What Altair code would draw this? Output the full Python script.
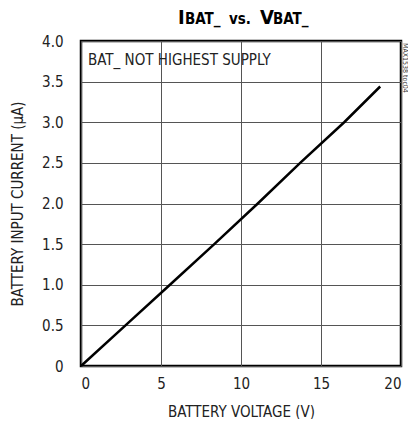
import altair as alt
import pandas as pd

# Data
voltage = [0.0, 2.78, 5.56, 8.33, 11.05, 13.7, 16.45, 18.7]
current = [0.0, 0.50, 1.00, 1.50, 2.00, 2.50, 3.00, 3.44]

x_ticks = [0, 5, 10, 15, 20]
y_ticks = [0, 0.5, 1.0, 1.5, 2.0, 2.5, 3.0, 3.5, 4.0]

annotation = ["BAT_ NOT HIGHEST SUPPLY"]
# title pieces: text, big (1) / small (0)
title_parts = ["I", "BAT_", "vs.", "V", "BAT_"]
title_big = [1, 0, 0, 1, 0]
title_px = [97, 104, 148, 179, 192]
side_note = ["MAX1538 toc04"]

FONT = "DejaVu Sans Condensed, Roboto Condensed, Liberation Sans Narrow, Roboto, sans-serif"
W, H = 320, 325

df = pd.DataFrame({"v": voltage, "i": current})

x_enc = alt.X("v:Q", scale=alt.Scale(domain=[0, 20], nice=False),
              axis=alt.Axis(values=x_ticks, title="BATTERY VOLTAGE (V)",
                            ticks=False, labelPadding=10, domain=False,
                            grid=True, gridColor="#555", gridWidth=1,
                            labelFontSize=15, titleFontSize=15,
                            labelFont=FONT, titleFont=FONT,
                            labelColor="#222", titleColor="#222",
                            titleFontWeight="normal",
                            titleX=W / 2, titleY=45, titleBaseline="middle"))
y_enc = alt.Y("i:Q", scale=alt.Scale(domain=[0, 4], nice=False),
              axis=alt.Axis(values=y_ticks, title="BATTERY INPUT CURRENT (µA)",
                            ticks=False, labelPadding=18, domain=False,
                            grid=True, gridColor="#555", gridWidth=1,
                            labelExpr="datum.value == 0 ? '0' : format(datum.value, '.1f')",
                            labelFontSize=15, titleFontSize=15,
                            labelFont=FONT, titleFont=FONT,
                            labelColor="#222", titleColor="#222",
                            titleFontWeight="normal",
                            titleX=-64, titleY=H / 2, titleBaseline="middle"))

line = alt.Chart(df).mark_line(color="black", strokeWidth=2.5).encode(x=x_enc, y=y_enc)

ann = alt.Chart(pd.DataFrame({"t": annotation})).mark_text(
    font=FONT, fontSize=15, align="left", baseline="alphabetic", color="#222"
).encode(text="t:N", x=alt.value(7), y=alt.value(24))

tdf = pd.DataFrame({"t": title_parts, "big": title_big, "px": title_px})
title_big_chart = alt.Chart(tdf).transform_filter("datum.big == 1").mark_text(
    font=FONT, fontSize=20, fontWeight="bold", align="left",
    baseline="alphabetic", color="black"
).encode(text="t:N", x=alt.X("px:Q", scale=None), y=alt.value(-17))
title_small_chart = alt.Chart(tdf).transform_filter("datum.big == 0").mark_text(
    font=FONT, fontSize=15, fontWeight="bold", align="left",
    baseline="alphabetic", color="black"
).encode(text="t:N", x=alt.X("px:Q", scale=None), y=alt.value(-17))

note = alt.Chart(pd.DataFrame({"t": side_note})).mark_text(
    font=FONT, fontSize=7, angle=90, align="left", baseline="middle", color="#333"
).encode(text="t:N", x=alt.value(W + 4), y=alt.value(2))

chart = alt.layer(line, ann, title_big_chart, title_small_chart, note).properties(
    width=W, height=H,
    autosize=alt.AutoSizeParams(type="none"),
    padding={"left": 73, "top": 33, "right": 7, "bottom": 53},
).configure_view(stroke="black", strokeWidth=2.5)

chart.save("out.html", embed_options={"renderer": "svg", "actions": False})
